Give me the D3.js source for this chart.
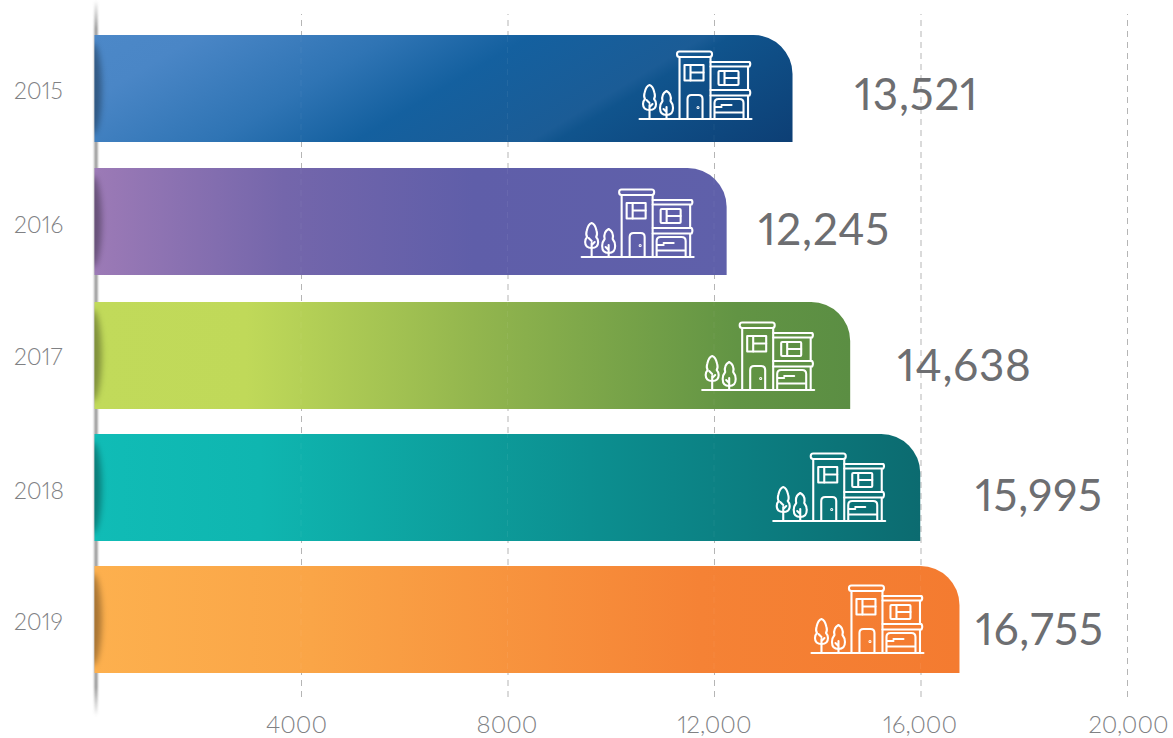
<!DOCTYPE html>
<html>
<head>
<meta charset="utf-8">
<script src="https://cdnjs.cloudflare.com/ajax/libs/d3/7.8.5/d3.min.js"></script>
<style>
  html, body { margin: 0; padding: 0; background: #fff; }
  svg { display: block; }
  text { font-family: Lato, "Open Sans", sans-serif; font-variant-numeric: lining-nums proportional-nums; font-feature-settings: "pnum" 1, "lnum" 1; }
</style>
</head>
<body>
<svg id="chart" width="1173" height="738"></svg>
<script>
// Annual totals
const years = ["2015", "2016", "2017", "2018", "2019"];
const totals = [13521, 12245, 14638, 15995, 16755];
const tickValues = [4000, 8000, 12000, 16000, 20000];
const tickLabels = ["4000", "8000", "12,000", "16,000", "20,000"];

// Fill ramps per bar: [offset, colour]
const ramps = [
  [[0, "#4c88c8"], [0.12, "#4a86c6"], [0.34, "#2f74b4"], [0.5, "#14609f"], [0.7, "#1b5c96"], [0.73, "#10548d"], [1, "#0d3f75"]],
  [[0, "#9c7ab6"], [0.3, "#7466ab"], [0.6, "#5f5ea9"], [1, "#5f60aa"]],
  [[0, "#c1da5a"], [0.2, "#c0d959"], [0.5, "#93b64e"], [0.85, "#629444"], [1, "#5b8e43"]],
  [[0, "#10bcb6"], [0.2, "#0fb6b0"], [0.6, "#0c8f90"], [1, "#0c6b70"]],
  [[0, "#fdb04e"], [0.25, "#faa547"], [0.7, "#f58235"], [1, "#f47b30"]]
];

// Layout tweaks for the bars and their annotations
const barTops = [35, 168, 302, 434, 566];
const barHeight = 107;
const cornerRadius = 39;
const iconGap = [41, 33, 36, 35, 36];
const iconDrop = [84, 89, 88, 87, 87];
const labelGap = [62, 31.5, 47, 55, 16];
const labelY = [110, 245, 381, 511, 645];
const yearY = [99, 233, 365, 499, 630];
const tickLabelShift = [-5, -1, 0, -1, 1];

const svg = d3.select("#chart");
const defs = svg.append("defs");

const x = d3.scaleLinear().domain([0, 20000]).range([94.5, 1127]);
const y = d3.scaleOrdinal().domain(years).range(barTops);

// Gradients for each bar; the first runs on a diagonal across the bar
ramps.forEach((stops, i) => {
  const g = defs.append("linearGradient").attr("id", "fill" + i);
  if (i === 0) {
    g.attr("gradientUnits", "userSpaceOnUse")
      .attr("x1", 94).attr("y1", 35).attr("x2", 325).attr("y2", 421);
  }
  stops.forEach(s => g.append("stop").attr("offset", s[0]).attr("stop-color", s[1]));
});

const axisFade = defs.append("linearGradient").attr("id", "axisFade")
  .attr("x1", 0).attr("x2", 0).attr("y1", 0).attr("y2", 1);
[[0, 0], [0.04, 1], [0.96, 1], [1, 0]].forEach(s =>
  axisFade.append("stop").attr("offset", s[0]).attr("stop-color", "#8c8c8c").attr("stop-opacity", s[1]));

defs.append("filter").attr("id", "soft").attr("x", "-100%").attr("width", "300%")
  .append("feGaussianBlur").attr("stdDeviation", 1);
defs.append("filter").attr("id", "softer").attr("x", "-200%").attr("width", "500%")
  .append("feGaussianBlur").attr("stdDeviation", 3);

// Grid lines and horizontal axis labels
const axis = d3.axisBottom(x)
  .tickValues(tickValues)
  .tickFormat((d, i) => tickLabels[i])
  .tickSize(-683)
  .tickPadding(19);

const axisG = svg.append("g").attr("transform", "translate(0,697)").call(axis);
axisG.select(".domain").remove();
axisG.selectAll("line")
  .attr("stroke", "#b5b5b5").attr("stroke-width", 1).attr("stroke-dasharray", "6 5");
axisG.selectAll("text")
  .attr("dx", (d, i) => tickLabelShift[i])
  .attr("fill", "#808184").attr("font-size", 24).attr("font-weight", 300);

// Vertical baseline, a soft grey edge
svg.append("rect")
  .attr("x", x(0)).attr("y", 0).attr("width", 3).attr("height", 716)
  .attr("fill", "url(#axisFade)").attr("filter", "url(#soft)");

// Bars: square on the left and bottom, rounded on the top right
const barPath = (i) => {
  const p = d3.path();
  const x0 = x(0), x1 = x(totals[i]), t = barTops[i], b = t + barHeight, r = cornerRadius;
  p.moveTo(x0, t);
  p.lineTo(x1 - r, t);
  p.arcTo(x1, t, x1, t + r, r);
  p.lineTo(x1, b);
  p.lineTo(x0, b);
  p.closePath();
  return p.toString();
};

years.forEach((yr, i) => {
  defs.append("clipPath").attr("id", "clip" + i)
    .append("path").attr("d", barPath(i));
});

const bars = svg.append("g").selectAll("g").data(years).join("g");

bars.append("path")
  .attr("d", (d, i) => barPath(i))
  .attr("fill", (d, i) => `url(#fill${i})`);

// Grid lines show very faintly through the bars
bars.append("g").attr("clip-path", (d, i) => `url(#clip${i})`)
  .selectAll("line").data(tickValues).join("line")
  .attr("x1", d => x(d)).attr("x2", d => x(d))
  .attr("y1", 14).attr("y2", 697)
  .attr("stroke", "#fff").attr("stroke-opacity", 0.06).attr("stroke-dasharray", "6 5");

// Shaded crescent where each bar meets the baseline
bars.append("g").attr("clip-path", (d, i) => `url(#clip${i})`)
  .append("ellipse")
  .attr("cx", x(0) - 2)
  .attr("cy", d => y(d) + barHeight / 2)
  .attr("rx", 9)
  .attr("ry", 46)
  .attr("fill", "#000").attr("fill-opacity", 0.34)
  .attr("filter", "url(#softer)");

// House and trees pictogram, drawn from its ground-left corner
function drawHouse(g) {
  g.attr("fill", "none").attr("stroke", "#fff").attr("stroke-width", 2.1)
    .attr("stroke-linecap", "round").attr("stroke-linejoin", "round");
  g.append("path").attr("d", "M0 0H112");
  // tower
  g.append("path").attr("d", "M40 0V-62M71 -62V0");
  g.append("rect").attr("x", 37.5).attr("y", -67.5).attr("width", 35).attr("height", 5.5).attr("rx", 2.5);
  g.append("rect").attr("x", 45).attr("y", -54).attr("width", 19).attr("height", 15.5);
  g.append("path").attr("d", "M51 -54V-38.5M51 -46.500H64");
  g.append("path").attr("d", "M48 0V-20Q48 -24 52 -24H59Q63 -24 63 -20V0");
  g.append("circle").attr("cx", 58.5).attr("cy", -11.5).attr("r", 0.5);
  // garage wing
  g.append("path").attr("d", "M71 -57H110Q111.5 -55 110 -52.5H71M108.5 -52.5V-29M71 -29H110Q111.5 -26.5 110 -23.5H71M108.5 -23.5V0");
  g.append("rect").attr("x", 79).attr("y", -48).attr("width", 20).attr("height", 14).attr("rx", 1);
  g.append("path").attr("d", "M85 -48V-34M85 -41H99");
  g.append("path").attr("d", "M75 0V-16Q75 -20 79 -20H100Q104 -20 104 -16V0M75 -12H82M82 -14H92M75 -6.500H104");
  // trees
  g.append("path").attr("d", "M10 0V-14M10 -16L7 -19M10 -12L13 -15");
  g.append("path").attr("d", "M10 -9Q3.500 -9 3.500 -15Q3.500 -18 5.500 -20Q4 -22 5 -26Q6.500 -33 10 -34Q13.500 -33 15 -26Q16 -22 14.500 -20Q16.500 -18 16.500 -15Q16.500 -9 10 -9Z");
  g.append("path").attr("d", "M27 0V-12M27 -7L24 -10");
  g.append("path").attr("d", "M27 -4Q20.500 -4 20.500 -11Q20.500 -15 23 -18Q21.500 -25 27 -28Q32.500 -25 31 -18Q33.500 -15 33.500 -11Q33.500 -4 27 -4Z");
}

bars.append("g")
  .attr("transform", (d, i) => `translate(${x(totals[i]) - iconGap[i] - 112},${y(d) + iconDrop[i]})`)
  .each(function () { drawHouse(d3.select(this)); });

// Year labels on the left
svg.append("g").selectAll("text").data(years).join("text")
  .attr("x", 14)
  .attr("y", (d, i) => yearY[i])
  .attr("fill", "#808184").attr("font-size", 23).attr("font-weight", 300)
  .text(d => d);

// Totals beside each bar
svg.append("g").selectAll("text").data(totals).join("text")
  .attr("x", (d, i) => x(d) + labelGap[i])
  .attr("y", (d, i) => labelY[i])
  .attr("fill", "#6d6e71").attr("font-size", 44).attr("font-weight", 400)
  .attr("letter-spacing", 0.8)
  .text(d => d3.format(",")(d));
</script>
</body>
</html>
